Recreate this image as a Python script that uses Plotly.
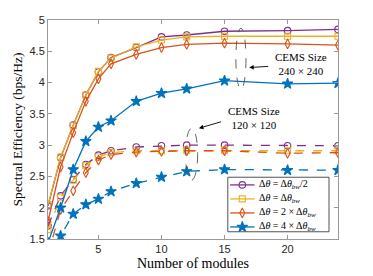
import plotly.graph_objects as go

modules = [1, 2, 3, 4, 5, 6, 8, 10, 12, 15, 20, 24]

# CEMS 240x240 (solid)
se240_half = [2.03, 2.80, 3.32, 3.80, 4.17, 4.40, 4.56, 4.73, 4.76, 4.82, 4.83, 4.85]
se240_bw   = [2.05, 2.81, 3.31, 3.80, 4.18, 4.39, 4.57, 4.68, 4.73, 4.74, 4.74, 4.74]
se240_2bw  = [1.78, 2.65, 3.20, 3.70, 4.06, 4.30, 4.45, 4.56, 4.61, 4.63, 4.62, 4.60]
se240_4bw  = [1.44, 2.00, 2.61, 3.06, 3.29, 3.39, 3.70, 3.83, 3.90, 4.03, 3.98, 3.99]

# CEMS 120x120 (dashed)
se120_half = [1.71, 2.19, 2.45, 2.69, 2.84, 2.91, 2.97, 2.99, 3.00, 3.00, 2.99, 2.99]
se120_bw   = [1.65, 2.16, 2.44, 2.67, 2.81, 2.88, 2.91, 2.91, 2.92, 2.92, 2.91, 2.91]
se120_2bw  = [1.25, 1.97, 2.27, 2.56, 2.76, 2.85, 2.89, 2.90, 2.91, 2.91, 2.87, 2.88]
se120_4bw  = [1.15, 1.55, 1.90, 2.05, 2.14, 2.26, 2.39, 2.49, 2.58, 2.61, 2.60, 2.60]

labels = [
    "Δ<i>θ</i> = Δ<i>θ</i><sub><i>bw</i></sub>/2",
    "Δ<i>θ</i> = Δ<i>θ</i><sub><i>bw</i></sub>",
    "Δ<i>θ</i> = 2 × Δ<i>θ</i><sub><i>bw</i></sub>",
    "Δ<i>θ</i> = 4 × Δ<i>θ</i><sub><i>bw</i></sub>",
]
colors = ["#7E2F8E", "#EDB120", "#D95319", "#0072BD"]
symbols = ["circle-open", "square-open", "diamond-tall-open", "star"]
sizes = [6.5, 6, 7, 8]

solid = [se240_half, se240_bw, se240_2bw, se240_4bw]
dashed = [se120_half, se120_bw, se120_2bw, se120_4bw]

serif = "Liberation Serif, DejaVu Serif, serif"
sans = "Liberation Sans, Arial, sans-serif"

fig = go.Figure()
for i in range(4):
    fig.add_trace(go.Scatter(
        x=modules, y=dashed[i], mode="lines+markers", showlegend=False,
        line=dict(color=colors[i], width=1.3, dash="dash"),
        marker=dict(symbol=symbols[i], size=sizes[i], color=colors[i],
                    line=dict(color=colors[i], width=1.1)),
    ))
for i in range(4):
    fig.add_trace(go.Scatter(
        x=modules, y=solid[i], mode="lines+markers", name=labels[i], showlegend=False,
        line=dict(color=colors[i], width=1.3),
        marker=dict(symbol=symbols[i], size=sizes[i], color=colors[i],
                    line=dict(color=colors[i], width=1.1)),
    ))

# ---- compact legend drawn on an overlay axis (0..1 of plot area) ----
LX0, LX1, LY0, LY1 = 0.62, 0.969, 0.033, 0.282
row_y = [0.247, 0.183, 0.119, 0.055]
line_x0, line_x1, mark_x, text_x = 0.628, 0.712, 0.670, 0.722

fig.add_trace(go.Scatter(
    x=[LX0, LX1, LX1, LX0, LX0], y=[LY0, LY0, LY1, LY1, LY0], xaxis="x2", yaxis="y2",
    mode="lines", fill="toself", fillcolor="white", line=dict(color="#262626", width=0.8),
    showlegend=False, hoverinfo="skip"))
for i in range(4):
    fig.add_trace(go.Scatter(
        x=[line_x0, line_x1], y=[row_y[i], row_y[i]], xaxis="x2", yaxis="y2",
        mode="lines", line=dict(color=colors[i], width=1.3), showlegend=False, hoverinfo="skip"))
    fig.add_trace(go.Scatter(
        x=[mark_x], y=[row_y[i]], xaxis="x2", yaxis="y2", mode="markers",
        marker=dict(symbol=symbols[i], size=sizes[i], color=colors[i],
                    line=dict(color=colors[i], width=1.1)),
        showlegend=False, hoverinfo="skip"))
    fig.add_annotation(x=text_x, y=row_y[i], xref="x2", yref="y2", xanchor="left", yanchor="middle",
                       showarrow=False, text=labels[i],
                       font=dict(family=serif, size=10, color="black"))

fig.update_layout(
    width=365, height=268,
    margin=dict(l=40, r=35, t=12, b=37),
    paper_bgcolor="white", plot_bgcolor="white",
    font=dict(family=sans, size=11, color="#262626"),
    showlegend=False,
    xaxis=dict(
        range=[1, 24], tickvals=[5, 10, 15, 20], ticks="inside", ticklen=4,
        tickcolor="#999", showline=True, linecolor="#999", mirror="ticks",
        showgrid=False, zeroline=False, automargin=False,
        title=dict(text="Number of modules", font=dict(family=serif, size=14, color="black"), standoff=3),
        tickfont=dict(family=sans, size=11, color="#262626"),
    ),
    yaxis=dict(
        range=[1.5, 5], tickvals=[1.5, 2, 2.5, 3, 3.5, 4, 4.5, 5],
        ticktext=["1.5", "2", "2.5", "3", "3.5", "4", "4.5", "5"],
        ticks="inside", ticklen=4,
        tickcolor="#999", showline=True, linecolor="#999", mirror="ticks",
        showgrid=False, zeroline=False, automargin=False,
        title=dict(text="Spectral Efficiency (bps/Hz)", font=dict(family=serif, size=13.5, color="black"), standoff=3),
        tickfont=dict(family=sans, size=11, color="#262626"),
    ),
    xaxis2=dict(overlaying="x", range=[0, 1], visible=False, fixedrange=True),
    yaxis2=dict(overlaying="y", range=[0, 1], visible=False, fixedrange=True),
)

# ellipses
fig.add_shape(type="circle", xref="x", yref="y", x0=15.9, x1=16.7, y0=3.89, y1=4.87,
              line=dict(color="#555", width=0.9, dash="dash"))
fig.add_shape(type="circle", xref="x", yref="y", x0=11.9, x1=12.87, y0=2.44, y1=3.27,
              line=dict(color="#555", width=0.9, dash="dash"))

# arrows
fig.add_annotation(x=16.96, y=4.24, ax=18.58, ay=4.26, xref="x", yref="y", axref="x", ayref="y",
                   showarrow=True, arrowhead=2, arrowsize=1, arrowwidth=0.9, arrowcolor="black", text="")
fig.add_annotation(x=12.97, y=3.27, ax=14.84, ay=3.38, xref="x", yref="y", axref="x", ayref="y",
                   showarrow=True, arrowhead=2, arrowsize=1, arrowwidth=0.9, arrowcolor="black", text="")

# texts
fig.add_annotation(x=21.1, y=4.29, xref="x", yref="y", showarrow=False,
                   text="CEMS Size<br>240 × 240", font=dict(family=serif, size=11, color="black"))
fig.add_annotation(x=17.3, y=3.44, xref="x", yref="y", showarrow=False,
                   text="CEMS Size<br>120 × 120", font=dict(family=serif, size=11, color="black"))

fig.write_html("out.html")
